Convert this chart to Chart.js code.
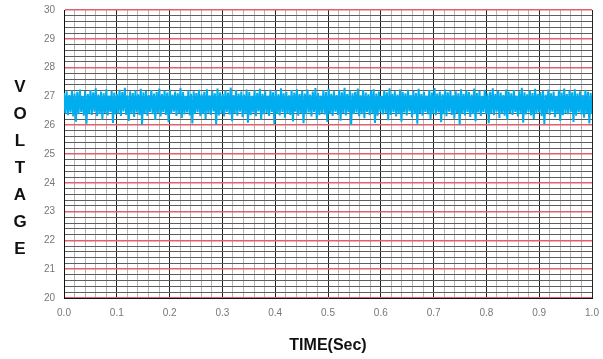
<!DOCTYPE html>
<html>
<head>
<meta charset="utf-8">
<script src="https://cdn.jsdelivr.net/npm/chart.js@4"></script>
<style>
  body { margin: 0; background: #fff; }
  #wrap { position: relative; width: 603px; height: 359px; }
</style>
</head>
<body>
<div id="wrap"><canvas id="voltChart" width="603" height="359"></canvas></div>
<script>
// voltage samples, evenly spaced over 0..1 s
const voltage = [
  27.12,26.41,27.18,26.35,27.05,26.44,27.21,26.30,27.10,26.12,27.16,26.38,27.24,26.45,27.02,26.33,27.19,26.05,27.08,26.40,
  27.22,26.36,27.14,26.47,27.28,26.31,27.06,26.39,27.17,26.20,27.11,26.43,27.25,26.34,27.03,26.46,27.20,26.08,27.13,26.37,
  27.09,26.42,27.23,26.32,27.15,26.48,27.30,26.36,27.04,26.15,27.18,26.40,27.12,26.29,27.21,26.44,27.07,26.35,27.26,26.02,
  27.14,26.41,27.19,26.33,27.05,26.46,27.22,26.38,27.10,26.18,27.16,26.43,27.27,26.30,27.08,26.45,27.20,26.36,27.13,26.10,
  27.24,26.39,27.06,26.47,27.17,26.32,27.11,26.42,27.29,26.25,27.15,26.37,27.02,26.44,27.21,26.34,27.09,26.06,27.18,26.40,
  27.12,26.45,27.23,26.31,27.07,26.39,27.16,26.22,27.25,26.43,27.04,26.36,27.19,26.48,27.11,26.03,27.27,26.34,27.14,26.41,
  27.08,26.30,27.20,26.46,27.13,26.37,27.31,26.14,27.05,26.42,27.22,26.33,27.10,26.47,27.17,26.28,27.06,26.40,27.24,26.09,
  27.15,26.35,27.02,26.44,27.21,26.31,27.12,26.48,27.26,26.19,27.09,26.38,27.18,26.43,27.03,26.32,27.23,26.46,27.14,26.04,
  27.20,26.39,27.07,26.34,27.28,26.45,27.11,26.26,27.16,26.41,27.04,26.36,27.22,26.13,27.13,26.47,27.25,26.33,27.08,26.42,
  27.19,26.07,27.10,26.38,27.24,26.44,27.06,26.30,27.17,26.46,27.29,26.21,27.12,26.35,27.03,26.43,27.21,26.37,27.15,26.11,
  27.26,26.40,27.09,26.32,27.18,26.47,27.05,26.36,27.23,26.16,27.14,26.42,27.30,26.34,27.08,26.45,27.20,26.01,27.11,26.39,
  27.16,26.44,27.27,26.31,27.04,26.38,27.22,26.24,27.13,26.46,27.07,26.35,27.19,26.41,27.25,26.08,27.10,26.33,27.17,26.47,
  27.02,26.37,27.21,26.43,27.14,26.17,27.28,26.36,27.09,26.45,27.18,26.30,27.06,26.40,27.24,26.12,27.15,26.44,27.11,26.34,
  27.23,26.48,27.05,26.27,27.19,26.39,27.12,26.05,27.26,26.42,27.08,26.33,27.16,26.46,27.03,26.37,27.22,26.20,27.13,26.41,
  27.29,26.35,27.10,26.44,27.17,26.10,27.07,26.38,27.24,26.31,27.14,26.47,27.20,26.36,27.04,26.23,27.18,26.43,27.11,26.02,
  27.25,26.40,27.09,26.34,27.21,26.45,27.15,26.29,27.06,26.39,27.27,26.14,27.12,26.44,27.19,26.32,27.02,26.46,27.23,26.38,
  27.10,26.07,27.16,26.42,27.28,26.35,27.08,26.47,27.20,26.25,27.13,26.40,27.05,26.33,27.24,26.18,27.17,26.43,27.11,26.36,
  27.22,26.46,27.03,26.30,27.18,26.41,27.30,26.09,27.14,26.37,27.07,26.45,27.21,26.34,27.12,26.22,27.26,26.39,27.09,26.44,
  27.15,26.31,27.19,26.04,27.06,26.43,27.24,26.36,27.11,26.47,27.17,26.28,27.02,26.40,27.23,26.15,27.13,26.35,27.27,26.42,
  27.08,26.38,27.20,26.46,27.14,26.11,27.25,26.33,27.10,26.44,27.18,26.37,27.05,26.26,27.22,26.41,27.16,26.06,27.12,26.39,
];
const timeRange = [0, 1];
const voltRange = [20, 30];
const yTitleLetters = ["V", "O", "L", "T", "A", "G", "E"];
const xTitle = "TIME(Sec)";

const points = voltage.map((v, i) => ({
  x: timeRange[0] + (i / (voltage.length - 1)) * (timeRange[1] - timeRange[0]),
  y: v,
}));

const near = (v, step) => Math.abs(v / step - Math.round(v / step)) < 1e-6;

const stackedTitle = {
  id: "stackedTitle",
  afterDraw: (chart) => {
    const { ctx } = chart;
    ctx.save();
    ctx.fillStyle = "#111";
    ctx.font = "bold 17px 'Liberation Sans Narrow', 'Liberation Sans', Arial";
    ctx.textAlign = "center";
    ctx.textBaseline = "middle";
    yTitleLetters.forEach((ch, i) => {
      ctx.fillText(ch, 20, 87 + i * 27);
    });
    ctx.restore();
  },
};

new Chart(document.getElementById("voltChart"), {
  type: "line",
  data: {
    datasets: [
      {
        data: points,
        borderColor: "#00aeef",
        borderWidth: 2,
        pointRadius: 0,
        fill: false,
        tension: 0,
      },
    ],
  },
  options: {
    responsive: false,
    animation: false,
    layout: { padding: { top: 10, right: 11, left: 0, bottom: 0 } },
    plugins: {
      legend: { display: false },
      tooltip: { enabled: false },
    },
    scales: {
      x: {
        type: "linear",
        min: timeRange[0],
        max: timeRange[1],
        afterFit: (scale) => {
          scale.height = 61;
          scale.paddingLeft = 0;
          scale.paddingRight = 0;
        },
        border: { display: true, color: "#111", width: 1 },
        grid: {
          drawTicks: false,
          color: (c) => (near(c.tick.value, 0.1) ? "#222" : "#b4b4b4"),
          lineWidth: 1,
        },
        ticks: {
          stepSize: 0.02,
          autoSkip: false,
          maxRotation: 0,
          padding: 9,
          color: "#777",
          font: { size: 10, family: "'Liberation Sans', Arial" },
          callback: (v) => (near(v, 0.1) ? v.toFixed(1) : ""),
        },
        title: {
          display: true,
          text: xTitle,
          color: "#111",
          font: { size: 16, weight: "bold", family: "'Liberation Sans Narrow', 'Liberation Sans', Arial" },
          padding: { top: 4, bottom: 4 },
        },
      },
      y: {
        min: voltRange[0],
        max: voltRange[1],
        afterFit: (scale) => {
          scale.width = 64;
          scale.paddingTop = 0;
          scale.paddingBottom = 0;
        },
        border: { display: true, color: "#111", width: 1 },
        grid: {
          drawTicks: false,
          color: (c) => (near(c.tick.value, 1) ? "#e0606e" : "#5e5e5e"),
          lineWidth: (c) => (near(c.tick.value, 1) ? 1.5 : 1),
        },
        ticks: {
          stepSize: 0.2,
          autoSkip: false,
          padding: 9,
          color: "#777",
          font: { size: 10, family: "'Liberation Sans', Arial" },
          callback: (v) => (near(v, 1) ? String(Math.round(v)) : ""),
        },
      },
    },
  },
  plugins: [stackedTitle],
});
</script>
</body>
</html>
